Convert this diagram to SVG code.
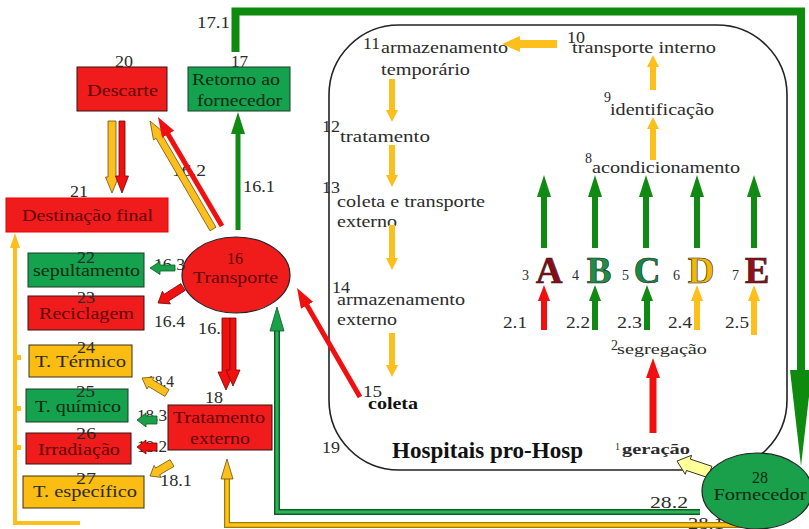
<svg xmlns="http://www.w3.org/2000/svg" width="809" height="529" viewBox="0 0 809 529">
<defs>
<style>
text{font-family:"Liberation Serif","Times New Roman",serif;font-size:16px;fill:#2b2b2b}
.s{font-size:14px}
.dr{fill:#5e0000}
.dg{fill:#0b2a12}
.b{font-weight:bold}
.m{text-anchor:middle}
.rR{fill:#f01c1c;stroke:#3b1010;stroke-width:1}
.rG{fill:#15a24e;stroke:#1b3b24;stroke-width:1}
.rY{fill:#fcbd12;stroke:#3b3212;stroke-width:1}
.lr{stroke:#f01010;fill:none}
.lg{stroke:#118a14;fill:none}
.ly{stroke:#fdbf1c;fill:none}
.pr{fill:#f01010;stroke:#7a0000;stroke-width:.8}
.pg{fill:#1aa04a;stroke:#0b5a1f;stroke-width:.8}
.py{fill:#fdbf1c;stroke:#6a5010;stroke-width:.8}
.big{font-size:37px;font-weight:bold;stroke:#1a1a1a;stroke-width:.6}
</style>
<marker id="hy" viewBox="0 0 12 12" markerWidth="12" markerHeight="12" markerUnits="userSpaceOnUse" refX="1" refY="6" orient="auto"><path d="M0,0L12,6L0,12z" fill="#fdbf1c"/></marker>
<marker id="hy3" viewBox="0 0 18 16" markerWidth="18" markerHeight="16" markerUnits="userSpaceOnUse" refX="1" refY="8" orient="auto"><path d="M0,0L18,8L0,16z" fill="#fdbf1c"/></marker>
<marker id="hg" viewBox="0 0 22 14" markerWidth="22" markerHeight="14" markerUnits="userSpaceOnUse" refX="1" refY="7" orient="auto"><path d="M0,0L22,7L0,14z" fill="#118a14"/></marker>
<marker id="hr" viewBox="0 0 20 14" markerWidth="20" markerHeight="14" markerUnits="userSpaceOnUse" refX="1" refY="7" orient="auto"><path d="M0,0L20,7L0,14z" fill="#f01010"/></marker>
<marker id="hr2" viewBox="0 0 16 12" markerWidth="16" markerHeight="12" markerUnits="userSpaceOnUse" refX="1" refY="6" orient="auto"><path d="M0,0L16,6L0,12z" fill="#f01010"/></marker>
<marker id="hg2" viewBox="0 0 16 12" markerWidth="16" markerHeight="12" markerUnits="userSpaceOnUse" refX="1" refY="6" orient="auto"><path d="M0,0L16,6L0,12z" fill="#118a14"/></marker>
<marker id="hy2" viewBox="0 0 16 12" markerWidth="16" markerHeight="12" markerUnits="userSpaceOnUse" refX="1" refY="6" orient="auto"><path d="M0,0L16,6L0,12z" fill="#fdbf1c"/></marker>
</defs>
<rect width="809" height="529" fill="#ffffff"/>

<g id="hospital">
<rect x="329" y="25" width="458" height="445" rx="70" ry="70" fill="none" stroke="#222" stroke-width="1.6"/>
<text x="392" y="458" class="b" style="font-size:23px;fill:#111" textLength="191" lengthAdjust="spacingAndGlyphs">Hospitais pro-Hosp</text>
<text x="322" y="453" textLength="18" lengthAdjust="spacingAndGlyphs">19</text>
</g>

<g id="n1"><text x="615" y="450" style="font-size:10px">1</text><text x="622" y="454" class="b" style="font-size:15px" textLength="68" lengthAdjust="spacingAndGlyphs">geração</text></g>
<g id="n2"><text x="611" y="350" class="s">2</text><text x="617" y="354" style="font-size:15px" textLength="90" lengthAdjust="spacingAndGlyphs">segregação</text></g>
<g id="n3"><text x="522" y="280" class="s">3</text><text x="549" y="283" class="big m" style="fill:#8a0c16">A</text></g>
<g id="n4"><text x="572" y="280" class="s">4</text><text x="599" y="283" class="big m" style="fill:#1f8f48">B</text></g>
<g id="n5"><text x="622" y="280" class="s">5</text><text x="647" y="283" class="big m" style="fill:#168a44">C</text></g>
<g id="n6"><text x="673" y="280" class="s">6</text><text x="701" y="283" class="big m" style="fill:#f5b800">D</text></g>
<g id="n7"><text x="732" y="280" class="s">7</text><text x="757" y="283" class="big m" style="fill:#961018">E</text></g>
<g id="n8"><text x="585" y="163" class="s">8</text><text x="592" y="173" textLength="148" lengthAdjust="spacingAndGlyphs">acondicionamento</text></g>
<g id="n9"><text x="604" y="102" class="s">9</text><text x="610" y="115" textLength="104" lengthAdjust="spacingAndGlyphs">identificação</text></g>
<g id="n10"><text x="567" y="43" textLength="18" lengthAdjust="spacingAndGlyphs">10</text><text x="572" y="53" textLength="144" lengthAdjust="spacingAndGlyphs">transporte interno</text></g>
<g id="n11"><text x="363" y="49" textLength="17" lengthAdjust="spacingAndGlyphs">11</text><text x="381" y="53" textLength="127" lengthAdjust="spacingAndGlyphs">armazenamento</text><text x="381" y="75" textLength="89" lengthAdjust="spacingAndGlyphs">temporário</text></g>
<g id="n12"><text x="322" y="132" textLength="18" lengthAdjust="spacingAndGlyphs">12</text><text x="340" y="142" textLength="90" lengthAdjust="spacingAndGlyphs">tratamento</text></g>
<g id="n13"><text x="322" y="193" textLength="18" lengthAdjust="spacingAndGlyphs">13</text><text x="337" y="207" textLength="148" lengthAdjust="spacingAndGlyphs">coleta e transporte</text><text x="337" y="227" textLength="60" lengthAdjust="spacingAndGlyphs">externo</text></g>
<g id="n14"><text x="332" y="293" textLength="18" lengthAdjust="spacingAndGlyphs">14</text><text x="337" y="305" textLength="128" lengthAdjust="spacingAndGlyphs">armazenamento</text><text x="337" y="325" textLength="60" lengthAdjust="spacingAndGlyphs">externo</text></g>
<g id="n15"><text x="363" y="397" textLength="19" lengthAdjust="spacingAndGlyphs">15</text><text x="368" y="409" class="b" style="fill:#111" textLength="50" lengthAdjust="spacingAndGlyphs">coleta</text></g>

<g id="n16"><ellipse cx="236" cy="275" rx="54" ry="38" fill="#f01c1c" stroke="#222" stroke-width="1.2"/><text x="235" y="264" class="m dr">16</text><text x="235.5" y="283" class="m dr" textLength="85" lengthAdjust="spacingAndGlyphs">Transporte</text></g>
<g id="n17"><rect x="188" y="67" width="102" height="44" class="rG"/><text x="239.5" y="67" class="m" textLength="17" lengthAdjust="spacingAndGlyphs">17</text><text x="236" y="85" class="m dg" textLength="88" lengthAdjust="spacingAndGlyphs">Retorno ao</text><text x="239.5" y="106" class="m dg" textLength="85" lengthAdjust="spacingAndGlyphs">fornecedor</text></g>
<g id="n18"><rect x="168" y="405" width="104" height="45" class="rR"/><text x="214" y="403" class="m" textLength="18" lengthAdjust="spacingAndGlyphs">18</text><text x="219" y="423" class="m dr" textLength="92" lengthAdjust="spacingAndGlyphs">Tratamento</text><text x="220" y="444" class="m dr" textLength="60" lengthAdjust="spacingAndGlyphs">externo</text></g>
<g id="n20"><rect x="77" y="67" width="90" height="44" class="rR"/><text x="124" y="67" class="m" textLength="18" lengthAdjust="spacingAndGlyphs">20</text><text x="122.5" y="96" class="m dr" style="font-size:17px" textLength="71" lengthAdjust="spacingAndGlyphs">Descarte</text></g>
<g id="n21"><rect x="6" y="198" width="162" height="34" fill="#f01c1c" stroke="#e00" stroke-width="1"/><text x="79" y="197" class="m" textLength="18" lengthAdjust="spacingAndGlyphs">21</text><text x="87.5" y="221" class="m dr" textLength="131" lengthAdjust="spacingAndGlyphs">Destinação final</text></g>
<g id="n22"><rect x="28" y="253" width="116" height="34" class="rG"/><text x="86" y="263" class="m" textLength="18" lengthAdjust="spacingAndGlyphs">22</text><text x="86.5" y="276" class="m dg" textLength="107" lengthAdjust="spacingAndGlyphs">sepultamento</text></g>
<g id="n23"><rect x="28" y="296" width="116" height="34" class="rR"/><text x="86" y="303" class="m" textLength="18" lengthAdjust="spacingAndGlyphs">23</text><text x="86.5" y="319" class="m dr" textLength="95" lengthAdjust="spacingAndGlyphs">Reciclagem</text></g>
<g id="n24"><rect x="29" y="345" width="103" height="32" class="rY"/><text x="86" y="353" class="m" textLength="18" lengthAdjust="spacingAndGlyphs">24</text><text x="80.5" y="367" class="m" textLength="91" lengthAdjust="spacingAndGlyphs">T. Térmico</text></g>
<g id="n25"><rect x="26" y="389" width="102" height="33" class="rG"/><text x="85.5" y="397" class="m" textLength="19" lengthAdjust="spacingAndGlyphs">25</text><text x="78" y="412" class="m dg" textLength="86" lengthAdjust="spacingAndGlyphs">T. químico</text></g>
<g id="n26"><rect x="26" y="433" width="105" height="31" class="rR"/><text x="86" y="439" class="m" textLength="20" lengthAdjust="spacingAndGlyphs">26</text><text x="79" y="455" class="m dr" textLength="82" lengthAdjust="spacingAndGlyphs">Irradiação</text></g>
<g id="n27"><rect x="23" y="476" width="121" height="32" class="rY"/><text x="86" y="484" class="m" textLength="20" lengthAdjust="spacingAndGlyphs">27</text><text x="85" y="497" class="m" textLength="104" lengthAdjust="spacingAndGlyphs">T. específico</text></g>

<g id="labels">
<text x="197" y="28" textLength="33" lengthAdjust="spacingAndGlyphs">17.1</text>
<text x="172" y="176" textLength="34" lengthAdjust="spacingAndGlyphs">16.2</text>
<text x="243" y="192" textLength="32" lengthAdjust="spacingAndGlyphs">16.1</text>
<text x="154" y="270" textLength="31" lengthAdjust="spacingAndGlyphs">16.3</text>
<text x="154" y="327" textLength="31" lengthAdjust="spacingAndGlyphs">16.4</text>
<text x="198" y="334" textLength="32" lengthAdjust="spacingAndGlyphs">16.5</text>
<text x="147" y="387" textLength="27" lengthAdjust="spacingAndGlyphs">18.4</text>
<text x="137" y="421" textLength="30" lengthAdjust="spacingAndGlyphs">18.3</text>
<text x="137" y="452" textLength="30" lengthAdjust="spacingAndGlyphs">18.2</text>
<text x="160" y="486" textLength="32" lengthAdjust="spacingAndGlyphs">18.1</text>
<text x="503" y="328" textLength="24" lengthAdjust="spacingAndGlyphs">2.1</text>
<text x="566" y="328" textLength="24" lengthAdjust="spacingAndGlyphs">2.2</text>
<text x="617" y="328" textLength="25" lengthAdjust="spacingAndGlyphs">2.3</text>
<text x="668" y="328" textLength="24" lengthAdjust="spacingAndGlyphs">2.4</text>
<text x="725" y="328" textLength="24" lengthAdjust="spacingAndGlyphs">2.5</text>
<text x="650" y="508" textLength="38" lengthAdjust="spacingAndGlyphs">28.2</text>
<text x="688" y="529" textLength="36" lengthAdjust="spacingAndGlyphs">28.1</text>
</g>

<g id="connectors">
<line x1="653" y1="433" x2="653" y2="377" class="lr" stroke-width="7" marker-end="url(#hr)"/>
<line x1="544" y1="330" x2="544" y2="300" class="lr" stroke-width="6" marker-end="url(#hr2)"/>
<line x1="595" y1="330" x2="595" y2="300" class="lg" stroke-width="6" marker-end="url(#hg2)"/>
<line x1="647" y1="330" x2="647" y2="300" class="lg" stroke-width="6" marker-end="url(#hg2)"/>
<line x1="697" y1="330" x2="697" y2="300" class="ly" stroke-width="6" marker-end="url(#hy2)"/>
<line x1="754" y1="335" x2="754" y2="300" class="ly" stroke-width="6" marker-end="url(#hy2)"/>
<line x1="544" y1="248" x2="544" y2="196" class="lg" stroke-width="6" marker-end="url(#hg)"/>
<line x1="595" y1="248" x2="595" y2="196" class="lg" stroke-width="6" marker-end="url(#hg)"/>
<line x1="646" y1="248" x2="646" y2="196" class="lg" stroke-width="6" marker-end="url(#hg)"/>
<line x1="697" y1="248" x2="697" y2="196" class="lg" stroke-width="6" marker-end="url(#hg)"/>
<line x1="754" y1="248" x2="754" y2="196" class="lg" stroke-width="6" marker-end="url(#hg)"/>
<line x1="653" y1="160" x2="653" y2="128" class="ly" stroke-width="6" marker-end="url(#hy)"/>
<line x1="653" y1="90" x2="653" y2="66" class="ly" stroke-width="6" marker-end="url(#hy)"/>
<line x1="557" y1="44" x2="519" y2="44" class="ly" stroke-width="8" marker-end="url(#hy3)"/>
<line x1="392" y1="79" x2="392" y2="111" class="ly" stroke-width="6" marker-end="url(#hy)"/>
<line x1="392" y1="145" x2="392" y2="176" class="ly" stroke-width="6" marker-end="url(#hy)"/>
<line x1="392" y1="225" x2="392" y2="259" class="ly" stroke-width="6" marker-end="url(#hy)"/>
<line x1="392" y1="333" x2="392" y2="366" class="ly" stroke-width="6" marker-end="url(#hy)"/>
<line x1="360" y1="397" x2="306.5" y2="304.5" class="lr" stroke-width="5" marker-end="url(#hr)"/>
<line x1="238" y1="230" x2="238" y2="133" class="lg" stroke-width="5" marker-end="url(#hg)"/>
<polygon class="py" points="216,227.2 162.1,134.8 164.7,133.3 150,121 153.5,139.9 156.1,138.4 210,230.8"/>
<line x1="222" y1="226" x2="167.6" y2="133.4" class="lr" stroke-width="5" marker-end="url(#hr)"/>
<polygon class="pg" points="175,265 160,265 160,261.5 150,268 160,274.5 160,271 175,271"/>
<polygon class="pr" points="180.8,283.6 164.3,294.2 162.4,291.3 158,303 170.4,303.9 168.6,301 185.2,290.4"/>
<polygon class="pr" points="222,318 230,318 230,372 234,372 226,390 218,372 222,372"/>
<polygon class="pr" points="230,318 236,318 236,370 240,370 233,386 226,370 230,370"/>
<polygon class="py" points="108,121 116,121 116,177 118.5,177 112,193 105.5,177 108,177"/>
<polygon class="pr" points="119,121 125,121 125,176 128.5,176 122,193 115.5,176 119,176"/>
<polygon class="py" points="169.1,389.6 152.6,379.7 154.2,377.1 142,378 147,389.1 148.5,386.5 164.9,396.4"/>
<polygon class="pg" points="157,416 146,416 146,413 137,420 146,427 146,424 157,424"/>
<polygon class="pr" points="157,443 146,443 146,440 137,447 146,454 146,451 157,451"/>
<polygon class="py" points="170,459.6 155.7,468 154.1,465.4 150,476 161.3,477.4 159.7,474.8 174,466.4"/>
<path d="M80,523H15V246" class="ly" stroke-width="4"/>
<polygon points="10,248 20,248 15,233" fill="#fdbf1c"/>
<rect x="15" y="355" width="6" height="5" fill="#fdbf1c"/>
<rect x="15" y="406" width="6" height="5" fill="#fdbf1c"/>
<rect x="15" y="445" width="6" height="5" fill="#fdbf1c"/>
<path d="M235.5,52V11.5H801V372" fill="none" stroke="#0e8a0e" stroke-width="8"/>
<polygon points="790,370 812,370 801,466" fill="#0e8a0e"/>
<path d="M700,512H277V330" fill="none" stroke="#0d5e22" stroke-width="6"/>
<path d="M700,512H277V330" fill="none" stroke="#2bb35a" stroke-width="3"/>
<polygon class="pg" points="270,331 284,331 277,307"/>
<path d="M742,525H227V478" fill="none" stroke="#a07a00" stroke-width="6"/>
<path d="M742,525H227V478" fill="none" stroke="#ffc21a" stroke-width="3.5"/>
<polygon class="py" points="221,479 233,479 227,459"/>
<polygon points="711.9,466.3 690.3,459.1 691.6,455.3 677,461 685.2,474.3 686.5,470.5 708.1,477.7" fill="#ffff99" stroke="#333" stroke-width="1"/>
</g>

<g id="n28"><ellipse cx="757" cy="491" rx="55" ry="38" fill="#1aa04a" stroke="#222" stroke-width="1.2"/><text x="760" y="483" class="m dg">28</text><text x="760" y="500" class="m dg" textLength="93" lengthAdjust="spacingAndGlyphs">Fornecedor</text></g>
</svg>
